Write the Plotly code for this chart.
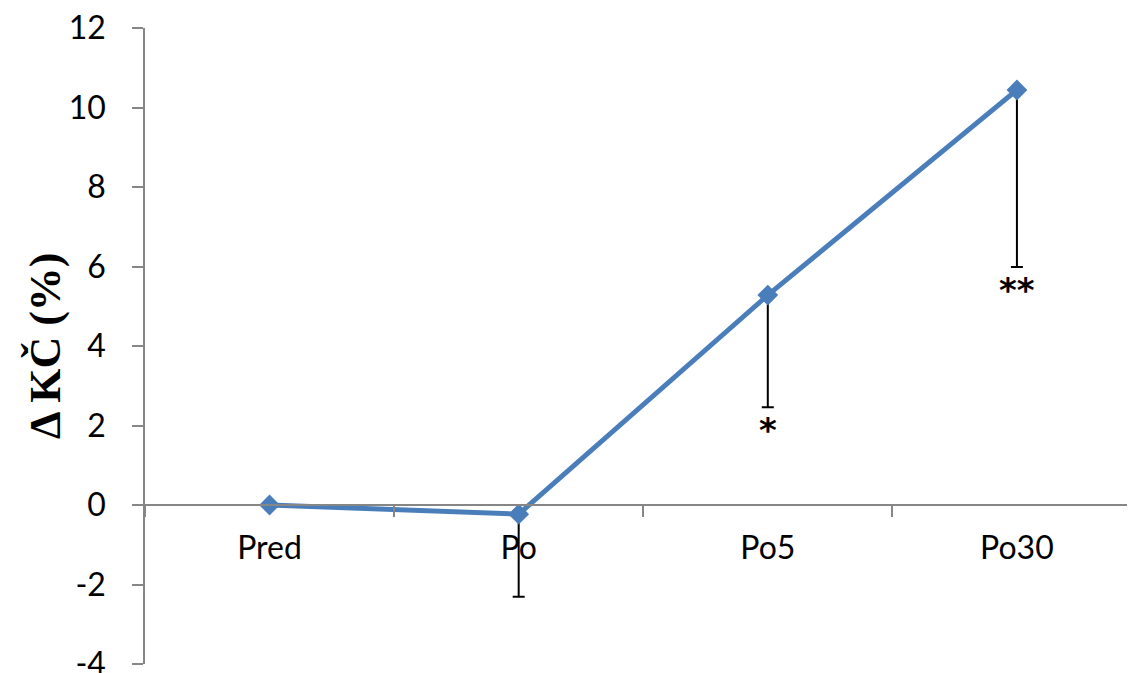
import plotly.graph_objects as go

categories = ["Pred", "Po", "Po5", "Po30"]
values = [0.0, -0.23, 5.28, 10.44]
err_minus = [0.0, 2.08, 2.82, 4.45]
significance = ["", "", "*", "**"]
y_ticks = [-4, -2, 0, 2, 4, 6, 8, 10, 12]
y_title = "Δ KČ (%)"

ymin, ymax = -4, 12
blue = "#4A7EBB"
gray = "#868686"
tick_font = dict(family="Lato, Liberation Sans, sans-serif", size=32, color="black")

# the page body has an 8px default margin; compensate
body = 8

fig = go.Figure()
fig.add_trace(go.Scatter(
    x=categories, y=values, mode="lines+markers",
    line=dict(color=blue, width=5),
    marker=dict(symbol="diamond", size=16, color=blue),
    error_y=dict(type="data", symmetric=False, array=[0] * len(values),
                 arrayminus=err_minus, color="black", thickness=2, width=6),
    showlegend=False,
))

for cat, v, e, s in zip(categories, values, err_minus, significance):
    if s:
        fig.add_annotation(x=cat, y=v - e, text=f"<b>{s}</b>", showarrow=False,
                           yanchor="top", yshift=-1,
                           font=dict(family="DejaVu Sans, sans-serif", size=34, color="black"))

fig.add_annotation(xref="paper", yref="paper", x=0, y=0.5, xshift=-100,
                   xanchor="center", yanchor="middle",
                   text=f"<b>{y_title}</b>", textangle=-90, showarrow=False,
                   font=dict(family="Liberation Serif, serif", size=44, color="black"))

fig.update_layout(
    width=1135 - body, height=673 - body,
    margin=dict(l=145 - body, r=0, t=28 - body, b=9),
    plot_bgcolor="white", paper_bgcolor="white",
    xaxis=dict(type="category", range=[-0.5, 3.474], anchor="free",
               position=(0 - ymin) / (ymax - ymin), automargin=False,
               showline=True, linecolor=gray, linewidth=1.5,
               ticks="outside", tickson="boundaries", ticklen=11,
               tickcolor=gray, tickwidth=1.5, showgrid=False,
               tickfont=tick_font, ticklabelstandoff=15),
    yaxis=dict(range=[ymin, ymax], tickvals=y_ticks, automargin=False,
               ticktext=[str(v) for v in y_ticks],
               showline=True, linecolor=gray, linewidth=1.5,
               ticks="outside", ticklen=11, tickcolor=gray, tickwidth=1.5,
               showgrid=False, zeroline=False, tickfont=tick_font,
               ticklabelstandoff=20, ticklabeloverflow="allow"),
)

fig.write_html("out.html")
